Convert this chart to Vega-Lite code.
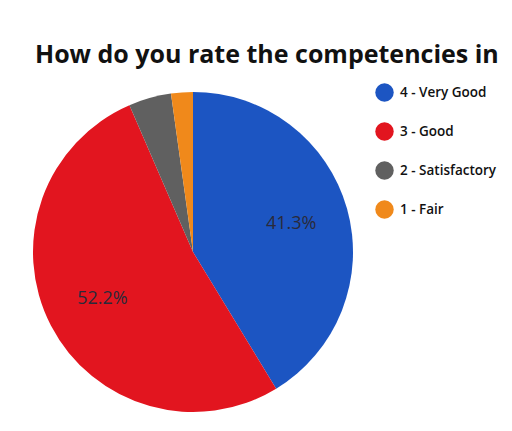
{
  "$schema": "https://vega.github.io/schema/vega-lite/v6.json",
  "autosize": "none",
  "padding": {"left": 0, "top": 82, "right": 126, "bottom": 9},
  "width": 386,
  "height": 340,
  "background": "#ffffff",
  "title": {
    "text": "How do you rate the competencies in",
    "anchor": "start",
    "frame": "group",
    "dx": 35,
    "offset": 14,
    "font": "Open Sans",
    "fontSize": 25,
    "fontWeight": "bold",
    "color": "#111111"
  },
  "data": {
    "values": [
      {"rating": "4 - Very Good", "share": 41.3, "rank": 1, "label": "41.3%"},
      {"rating": "3 - Good", "share": 52.2, "rank": 2, "label": "52.2%"},
      {"rating": "2 - Satisfactory", "share": 4.3, "rank": 3, "label": ""},
      {"rating": "1 - Fair", "share": 2.2, "rank": 4, "label": ""}
    ]
  },
  "encoding": {
    "theta": {"field": "share", "type": "quantitative", "stack": true},
    "order": {"field": "rank", "type": "quantitative"},
    "color": {
      "field": "rating",
      "type": "nominal",
      "scale": {
        "domain": ["4 - Very Good", "3 - Good", "2 - Satisfactory", "1 - Fair"],
        "range": ["#1c55c2", "#e2151f", "#606060", "#f0891b"]
      },
      "legend": {
        "title": null,
        "orient": "none",
        "legendX": 375,
        "legendY": 1,
        "symbolType": "circle",
        "symbolSize": 340,
        "symbolStrokeWidth": 0,
        "rowPadding": 20,
        "labelFont": "Open Sans",
        "labelFontSize": 13.5,
        "labelFontWeight": 600,
        "labelColor": "#111111",
        "labelOffset": 6
      }
    }
  },
  "layer": [
    {"mark": {"type": "arc", "outerRadius": 160, "stroke": null}},
    {
      "mark": {"type": "text", "radius": 102, "font": "Open Sans", "fontSize": 18, "fill": "#2a2a3a"},
      "encoding": {
        "text": {"field": "label"},
        "color": {"value": "#2a2a3a"}
      }
    }
  ]
}
